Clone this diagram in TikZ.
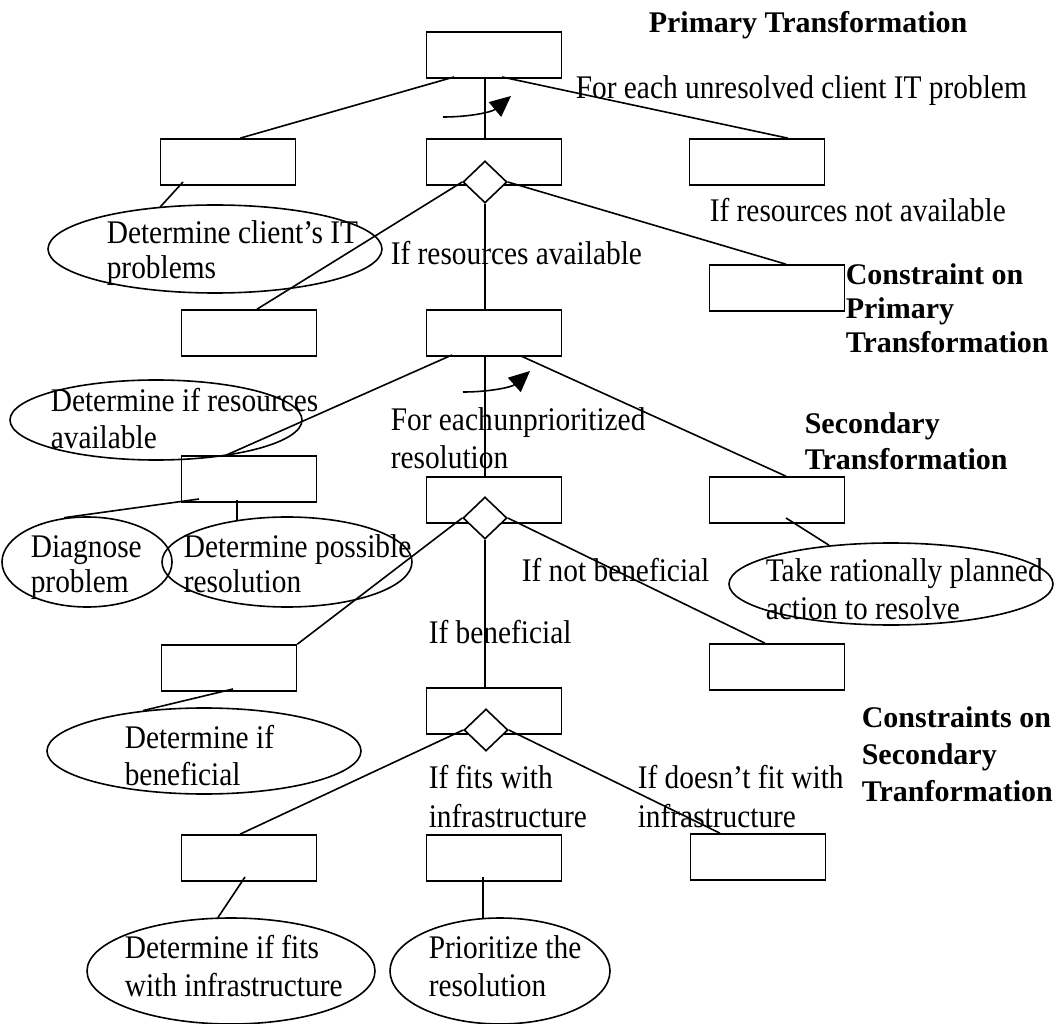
\documentclass[tikz,border=0pt]{standalone}
\usepackage{fontspec}
\setmainfont{Liberation Serif}
\newfontfamily\lblfont{Liberation Serif}[FakeStretch=0.89]
\usetikzlibrary{shapes.geometric,arrows.meta,calc}

% left-aligned block of lines whose reference point is the first baseline
\newcommand\stackl[2][38pt]{\vtop{\baselineskip=#1\relax\lineskiplimit=-100pt\lineskip=0pt\halign{##\hfil\cr#2\crcr}}}

\tikzset{
  box/.style={draw, rectangle, minimum width=135, minimum height=46, inner sep=0},
  dia/.style={draw, diamond, minimum width=44, minimum height=42, inner sep=0, fill=white},
  oval/.style={draw, ellipse, inner sep=0},
  lbl/.style={inner sep=0, anchor=base west, font=\lblfont\fontsize{33}{38}\selectfont},
  hdr/.style={inner sep=0, anchor=base west, font=\fontsize{30}{35}\selectfont\bfseries},
  link/.style={line width=1.6pt},
  turn/.style={line width=1.6pt, -{Triangle[length=21pt,width=19pt]}},
}

\begin{document}
\begin{tikzpicture}[x=1pt, y=-1pt, line width=1.6pt]
\fill[white] (0,0) rectangle (1061,1024);
\useasboundingbox (0,0) rectangle (1061,1024);

% ---- boxes ----
\node[box] (T)  at (494,55)  {};
\node[box] (A1) at (228,162) {};
\node[box] (C1) at (494,162) {};
\node[box] (R1) at (757,162) {};
\node[box] (A2) at (249,333) {};
\node[box] (C2) at (494,333) {};
\node[box] (R2) at (777,288) {};
\node[box] (A3) at (249,479) {};
\node[box] (C3) at (494,500) {};
\node[box] (R3) at (777,500) {};
\node[box] (A4) at (229,668) {};
\node[box] (C4) at (494,711) {};
\node[box] (R4) at (777,667) {};
\node[box] (A5) at (249,858) {};
\node[box] (C5) at (494,858) {};
\node[box] (R5) at (758,857) {};

% ---- decision diamonds ----
\node[dia] (D1) at (485,182) {};
\node[dia] (D2) at (485,518) {};
\node[dia] (D3) at (486,730) {};

% ---- ovals ----
\node[oval, minimum width=334, minimum height=88]  (E1) at (215,249) {};
\node[oval, minimum width=292, minimum height=80]  (E2) at (156,420) {};
\node[oval, minimum width=170, minimum height=90]  (E3) at (87,562)  {};
\node[oval, minimum width=250, minimum height=90]  (E4) at (287,562) {};
\node[oval, minimum width=324, minimum height=82]  (E5) at (891,584) {};
\node[oval, minimum width=314, minimum height=86]  (E6) at (204,751) {};
\node[oval, minimum width=288, minimum height=106] (E7) at (231,971) {};
\node[oval, minimum width=220, minimum height=106] (E8) at (500,971) {};

% ---- oval texts ----
\node[lbl] (E1t) at (106,244) {\stackl[35pt]{Determine client’s IT\cr problems}};
\node[lbl] (E2t) at (50,412)  {\stackl[37pt]{Determine if resources\cr available}};
\node[lbl] (E3t) at (30,557)  {\stackl[35pt]{Diagnose\cr problem}};
\node[lbl] (E4t) at (183,557) {\stackl[35pt]{Determine possible\cr resolution}};
\node[lbl] (E5t) at (765,581) {\stackl[38pt]{Take rationally planned\cr action to resolve}};
\node[lbl] (E6t) at (124,748) {\stackl[37pt]{Determine if\cr beneficial}};
\node[lbl] (E7t) at (124,958) {\stackl[38pt]{Determine if fits\cr with infrastructure}};
\node[lbl] (E8t) at (428,958) {\stackl[38pt]{Prioritize the\cr resolution}};

% ---- condition labels ----
\node[lbl] (L1) at (575,99)  {For each unresolved client IT problem};
\node[lbl] (L2) at (709,222) {If resources not available};
\node[lbl] (L3) at (390,265) {If resources available};
\node[lbl] (L4) at (390,431) {\stackl[38pt]{For each\kern1pt unprioritized\cr resolution}};
\node[lbl] (L5) at (521,581) {If not beneficial};
\node[lbl] (L6) at (428,643) {If beneficial};
\node[lbl] (L7) at (428,788) {\stackl[39pt]{If fits with\cr infrastructure}};
\node[lbl] (L8) at (637,788) {\stackl[39pt]{If doesn’t fit with\cr infrastructure}};

% ---- headings ----
\node[hdr] (H1) at (648,33)  {Primary Transformation};
\node[hdr] (H2) at (845,285) {\stackl[34pt]{Constraint on\cr Primary\cr Transformation}};
\node[hdr] (H3) at (804,433) {\stackl[36pt]{Secondary\cr Transformation}};
\node[hdr] (H4) at (861,727) {\stackl[37pt]{Constraints on\cr Secondary\cr Tranformation}};

% ---- connectors ----
\draw[link] ($(T.center)+(-40,22)$) -- ($(A1.north)+(12,0)$);
\draw[link] ($(T.center)+(8,22)$)   -- ($(R1.north)+(31,0)$);
\draw[link] (D1 |- T.south) -- (D1 |- C1.north);
\draw[link] ($(A1.center)+(-45,20)$) -- ($(E1.north)+(-55,3)$);

\draw[link] (D1.west) -- ($(A2.north)+(8,0)$);
\draw[link] (D1.east) -- ($(R2.north)+(9,0)$);
\draw[link] (D1.south) -- (D1 |- C2.north);

\draw[link] ($(C2.center)+(-42,22)$) -- ($(A3.north)+(-23,0)$);
\draw[link] ($(C2.center)+(27,23)$)  -- ($(R3.north)+(9,0)$);
\draw[link] (D2 |- C2.south) -- (D2 |- C3.north);

\draw[link] ($(A3.center)+(-50,20)$) -- ($(E3.north)+(-23,1.5)$);
\draw[link] ($(A3.center)+(-12,21)$) -- ($(E4.north)+(-50,4)$);
\draw[link] ($(R3.center)+(9,18)$)   -- ($(E5.north)+(-62,3)$);

\draw[link] (D2.west) -- (A4.north east);
\draw[link] (D2.east) -- ($(R4.north)+(-12,0)$);
\draw[link] (D2.south) -- (D2 |- C4.north);
\draw[link] ($(A4.center)+(4,21)$) -- ($(E6.north)+(-61,3.4)$);

\draw[link] (D3.west) -- ($(A5.north)+(-9,0)$);
\draw[link] (D3.east) -- ($(R5.north)+(-38,0)$);
\draw[link] ($(A5.center)+(-4,19)$) -- ($(E7.north)+(-13,0.3)$);
\draw[link] ($(C5.center)+(-11,19)$) -- ($(E8.north)+(-17,0.6)$);

% ---- iteration arrows ----
\coordinate (a1s) at (443,117);
\coordinate (a1e) at (511,96);
\draw[turn] (a1s) .. controls (470,117) and (492,112) .. (a1e);
\coordinate (a2s) at (463,392);
\coordinate (a2e) at (530,371);
\draw[turn] (a2s) .. controls (490,392) and (512,387) .. (a2e);
\end{tikzpicture}
\end{document}
